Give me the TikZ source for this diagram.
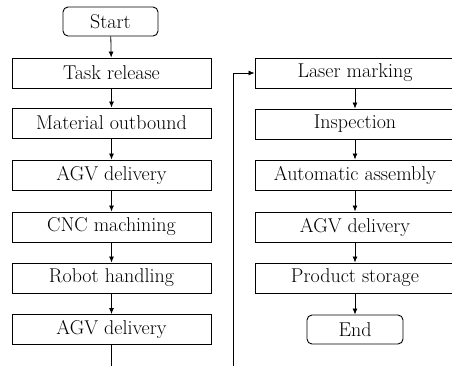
\documentclass[tikz,border=0pt]{standalone}
\usetikzlibrary{arrows.meta}
\begin{document}
\begin{tikzpicture}[x=1pt,y=-1pt,
  box/.style={draw, line width=0.9pt, minimum width=199pt, minimum height=30pt, inner sep=0pt, font=\fontsize{20}{22}\selectfont},
  term/.style={box, rounded corners=5pt, minimum width=95pt, minimum height=29pt},
  flow/.style={line width=0.8pt, -{Latex[length=6pt,width=5pt]}}]
\useasboundingbox (0,0) rectangle (452,365);
% left column
\node[term] (start) at (110.5,21.5) {Start};
\node[box] (t1) at (111.5,73) {Task release};
\node[box] (t2) at (111.5,123) {Material outbound};
\node[box] (t3) at (111.5,175) {AGV delivery};
\node[box] (t4) at (111.5,227) {CNC machining};
\node[box] (t5) at (111.5,278) {Robot handling};
\node[box] (t6) at (111.5,329.5) {AGV delivery};
% right column
\node[box, minimum width=200pt] (r1) at (355,73) {Laser marking};
\node[box, minimum width=200pt] (r2) at (355,124) {Inspection};
\node[box, minimum width=200pt] (r3) at (355,175) {Automatic assembly};
\node[box, minimum width=200pt] (r4) at (355,227) {AGV delivery};
\node[box, minimum width=200pt] (r5) at (355,278) {Product storage};
\node[term, minimum width=96pt] (end) at (355,329.5) {End};
% arrows
\draw[flow] (start) -- (t1);
\draw[flow] (t1) -- (t2);
\draw[flow] (t2) -- (t3);
\draw[flow] (t3) -- (t4);
\draw[flow] (t4) -- (t5);
\draw[flow] (t5) -- (t6);
\draw[flow] (r1) -- (r2);
\draw[flow] (r2) -- (r3);
\draw[flow] (r3) -- (r4);
\draw[flow] (r4) -- (r5);
\draw[flow] (r5) -- (end);
\coordinate (turn) at (233,372);
\draw[flow] (t6.south) |- (turn) |- (r1.west);
\end{tikzpicture}
\end{document}
